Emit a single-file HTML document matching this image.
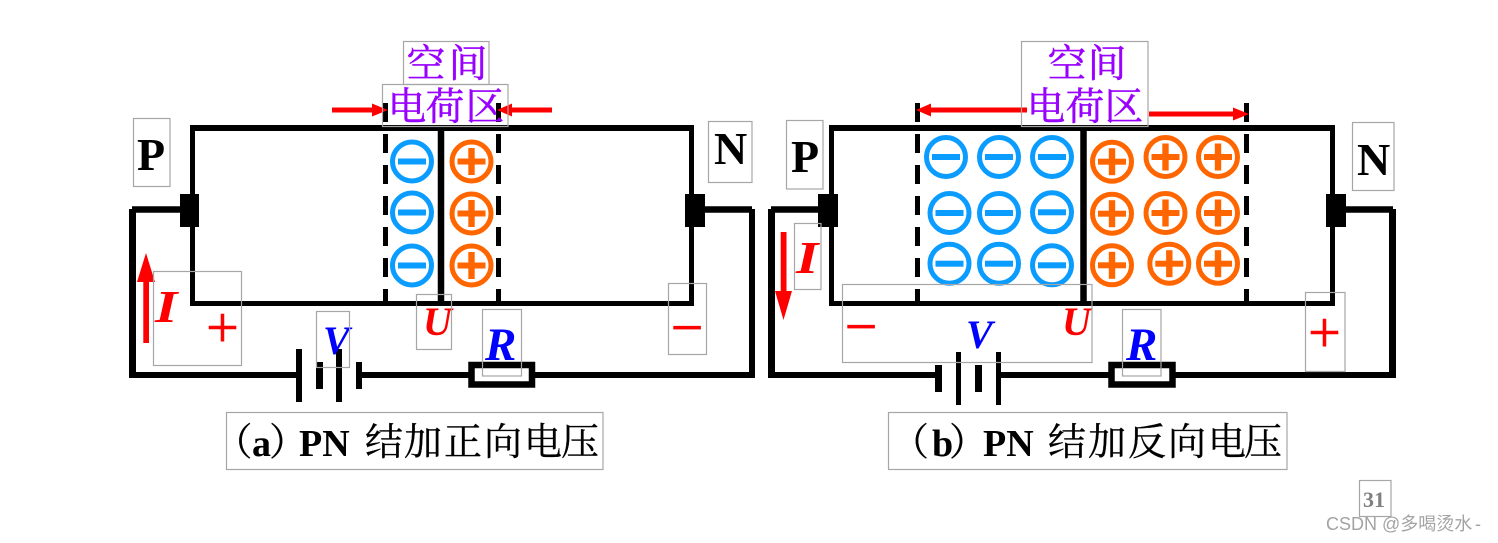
<!DOCTYPE html>
<html lang="zh">
<head>
<meta charset="utf-8">
<title>PN junction</title>
<style>
html,body{margin:0;padding:0;background:#fff;width:1498px;height:543px;overflow:hidden}
svg{display:block}
.box{fill:none;stroke:#a6a6a6;stroke-width:1.2}
.w{stroke:#000;fill:none;stroke-linecap:butt}
.sym{font-family:"Liberation Serif",serif;font-weight:bold;font-style:italic}
.lat{font-family:"Liberation Serif",serif;font-weight:bold;fill:#000}
.cjk{font-family:"Noto Serif CJK SC","Liberation Serif",serif;font-size:38px;fill:#000;stroke:#000;stroke-width:.3;text-anchor:middle}
.pur{font-family:"Noto Serif CJK SC","Liberation Serif",serif;font-size:38.5px;fill:#9900ff;stroke:#9900ff;stroke-width:.5;text-anchor:middle}
.op{font-family:"Liberation Serif",serif;font-size:58px;fill:#f00;stroke:#f00;stroke-width:.6;text-anchor:middle}
</style>
</head>
<body>
<svg width="1498" height="543" viewBox="0 0 1498 543" xmlns="http://www.w3.org/2000/svg">
<defs>
<g id="mi"><circle r="19.5" fill="none" stroke="#0a9cff" stroke-width="5"/><rect x="-14" y="-3" width="28" height="6" fill="#0a9cff"/></g>
<g id="pl"><circle r="19.5" fill="none" stroke="#ff6600" stroke-width="5"/><rect x="-14" y="-3" width="28" height="6" fill="#ff6600"/><rect x="-3.2" y="-13.5" width="6.4" height="27" fill="#ff6600"/></g>
</defs>
<rect width="1498" height="543" fill="#fff"/>

<!-- LEFT DIAGRAM -->
<path class="w" stroke-width="5" d="M192.5 128V303.5H691.5V128"/>
<path class="w" stroke-width="6" d="M190 128H694"/>
<path class="w" stroke-width="6.5" d="M441 128V303"/>
<path class="w" stroke-width="5" stroke-dasharray="19 12" d="M385.5 103V303"/>
<path class="w" stroke-width="5" stroke-dasharray="19 12" d="M498.5 103V303"/>
<rect x="180" y="194" width="19" height="33" fill="#000"/>
<rect x="685" y="194" width="20" height="33" fill="#000"/>
<path class="w" stroke-width="6.5" d="M132 209.5H180"/>
<path class="w" stroke-width="7" d="M132.5 209V378"/>
<path class="w" stroke-width="6" d="M130 375H297"/>
<rect x="296" y="349" width="6" height="53" fill="#000"/>
<rect x="316" y="362" width="7" height="27" fill="#000"/>
<rect x="336" y="349" width="6" height="53" fill="#000"/>
<rect x="356" y="362" width="6" height="27" fill="#000"/>
<path class="w" stroke-width="6" d="M362 375H470"/>
<rect x="471.5" y="365" width="60.5" height="19.5" class="w" stroke-width="6.5"/>
<path class="w" stroke-width="6" d="M534 375H755"/>
<path class="w" stroke-width="6.5" d="M705 209.5H752"/>
<path class="w" stroke-width="6" d="M752 209V378"/>

<use href="#mi" x="412" y="161.5"/><use href="#mi" x="412" y="212.5"/><use href="#mi" x="412" y="265.5"/>
<use href="#pl" x="471.5" y="161.5"/><use href="#pl" x="471.5" y="213.5"/><use href="#pl" x="471.5" y="265.5"/>

<path fill="#f00" d="M332 107.5H372V103.5L388 110L372 116.5V112.5H332Z"/>
<path fill="#f00" d="M552 107.5H512V103.5L497 110L512 116.5V112.5H552Z"/>
<path fill="#f00" d="M143.3 343V282H137L146 253L155 282H149V343Z"/>

<text class="pur" x="426" y="77">空</text><text class="pur" x="468" y="77">间</text>
<text class="pur" x="407" y="120">电</text><text class="pur" x="445" y="120">荷</text><text class="pur" x="485" y="120">区</text>
<text class="lat" font-size="46" x="137" y="170">P</text>
<text class="lat" font-size="46" x="714" y="164">N</text>
<text class="sym" font-size="46" fill="#f00" transform="translate(155 322) scale(1.25 1)">I</text>
<text class="op" x="222.5" y="347">+</text>
<text class="op" x="687" y="347">−</text>
<text class="sym" font-size="40" fill="#0000ff" x="323" y="354">V</text>
<text class="sym" font-size="40" fill="#f00" x="423" y="335">U</text>
<text class="sym" font-size="47" fill="#0000ff" x="485" y="360">R</text>

<text class="cjk" x="233.5" y="455">（</text>
<text class="lat" font-size="38" x="252" y="456">a</text>
<text class="cjk" x="288" y="455">）</text>
<text class="lat" font-size="38" x="299" y="456">PN</text>
<text class="cjk" x="384" y="455">结</text><text class="cjk" x="423" y="455">加</text><text class="cjk" x="463" y="455">正</text><text class="cjk" x="503" y="455">向</text><text class="cjk" x="543" y="455">电</text><text class="cjk" x="580" y="455">压</text>

<!-- RIGHT DIAGRAM -->
<path class="w" stroke-width="5" d="M831.5 128V303.5H1332.5V128"/>
<path class="w" stroke-width="6" d="M829 128H1335"/>
<path class="w" stroke-width="6.5" d="M1083.5 128V303"/>
<path class="w" stroke-width="5" stroke-dasharray="19 12" d="M917.5 103V303"/>
<path class="w" stroke-width="5" stroke-dasharray="19 12" d="M1246.5 103V303"/>
<rect x="818" y="194" width="20" height="33" fill="#000"/>
<rect x="1326" y="194" width="20" height="33" fill="#000"/>
<path class="w" stroke-width="6.5" d="M771 209.5H818"/>
<path class="w" stroke-width="7" d="M771.5 209V378"/>
<path class="w" stroke-width="6" d="M768 375H935"/>
<rect x="935" y="365" width="7" height="27" fill="#000"/>
<rect x="956" y="352" width="5" height="53" fill="#000"/>
<rect x="975" y="365" width="7" height="27" fill="#000"/>
<rect x="996" y="352" width="5" height="53" fill="#000"/>
<path class="w" stroke-width="6" d="M1001 375H1110"/>
<rect x="1111.5" y="365" width="61" height="19.5" class="w" stroke-width="6.5"/>
<path class="w" stroke-width="6" d="M1175 375H1396"/>
<path class="w" stroke-width="6.5" d="M1346 209.5H1393"/>
<path class="w" stroke-width="7" d="M1392.5 209V378"/>

<use href="#mi" x="946" y="157"/><use href="#mi" x="999" y="157"/><use href="#mi" x="1052" y="157"/>
<use href="#mi" x="949.5" y="213"/><use href="#mi" x="999" y="213"/><use href="#mi" x="1052" y="212.3"/>
<use href="#mi" x="949.5" y="263.7"/><use href="#mi" x="999" y="263.7"/><use href="#mi" x="1052" y="265.3"/>
<use href="#pl" x="1112" y="161.7"/><use href="#pl" x="1165.5" y="157"/><use href="#pl" x="1218" y="157"/>
<use href="#pl" x="1112" y="213.7"/><use href="#pl" x="1165.5" y="213"/><use href="#pl" x="1218" y="213"/>
<use href="#pl" x="1112" y="265.3"/><use href="#pl" x="1169.3" y="263.7"/><use href="#pl" x="1218" y="263.7"/>

<path fill="#f00" d="M1027 107.5H931V103.5L916 110L931 116.5V112.5H1027Z"/>
<path fill="#f00" d="M1149 111.5H1233V107.5L1249 114L1233 120.5V116.5H1149Z"/>
<path fill="#f00" d="M780.7 232V291H775L783.5 320L792 291H786.5V232Z"/>

<text class="pur" x="1067" y="77">空</text><text class="pur" x="1107" y="77">间</text>
<text class="pur" x="1046" y="120">电</text><text class="pur" x="1085" y="120">荷</text><text class="pur" x="1124" y="120">区</text>
<text class="lat" font-size="46" x="791" y="172">P</text>
<text class="lat" font-size="46" x="1357" y="175">N</text>
<text class="sym" font-size="46" fill="#f00" transform="translate(796 273) scale(1.25 1)">I</text>
<text class="op" x="861" y="346">−</text>
<text class="op" x="1324.5" y="352">+</text>
<text class="sym" font-size="40" fill="#0000ff" x="966" y="348">V</text>
<text class="sym" font-size="40" fill="#f00" x="1062" y="335">U</text>
<text class="sym" font-size="47" fill="#0000ff" x="1126" y="360">R</text>

<text class="cjk" x="910" y="455">（</text>
<text class="lat" font-size="38" x="932" y="456">b</text>
<text class="cjk" x="968" y="455">）</text>
<text class="lat" font-size="38" x="983" y="456">PN</text>
<text class="cjk" x="1067" y="455">结</text><text class="cjk" x="1107" y="455">加</text><text class="cjk" x="1147" y="455">反</text><text class="cjk" x="1187" y="455">向</text><text class="cjk" x="1227" y="455">电</text><text class="cjk" x="1263" y="455">压</text>

<!-- gray annotation boxes -->
<rect class="box" x="403.5" y="41.5" width="85.5" height="43"/>
<rect class="box" x="382.5" y="84.5" width="125.5" height="42"/>
<rect class="box" x="133.5" y="118.5" width="36.5" height="68"/>
<rect class="box" x="153.5" y="271.5" width="88" height="94"/>
<rect class="box" x="316.5" y="311.5" width="33" height="56"/>
<rect class="box" x="416.5" y="294.5" width="35" height="55"/>
<rect class="box" x="482.5" y="309.5" width="39" height="66.5"/>
<rect class="box" x="668.5" y="283.5" width="38" height="71"/>
<rect class="box" x="708.5" y="121.5" width="43.5" height="61"/>
<rect class="box" x="226.5" y="412.5" width="376.5" height="57"/>
<rect class="box" x="1021.5" y="41.5" width="126.5" height="85"/>
<rect class="box" x="786.5" y="120.5" width="36.5" height="68.5"/>
<rect class="box" x="794.5" y="223.5" width="26.5" height="66"/>
<rect class="box" x="842.5" y="284.5" width="249.5" height="78"/>
<rect class="box" x="1352.5" y="122.5" width="41.5" height="68"/>
<rect class="box" x="1122.5" y="309.5" width="38.5" height="66.5"/>
<rect class="box" x="1305.5" y="292.5" width="39.5" height="79"/>
<rect class="box" x="888.5" y="412.5" width="398.5" height="57"/>
<rect class="box" x="1359.5" y="480.5" width="31.5" height="36"/>

<text font-family="'Liberation Serif',serif" font-weight="bold" font-size="22" fill="#7f7f7f" x="1363" y="507">31</text>
<text font-family="'Liberation Sans','Noto Sans CJK SC',sans-serif" font-size="18" fill="#a3a3a3" x="1326" y="530">CSDN @多喝烫水<tspan x="1475">-</tspan></text>
</svg>
</body>
</html>
